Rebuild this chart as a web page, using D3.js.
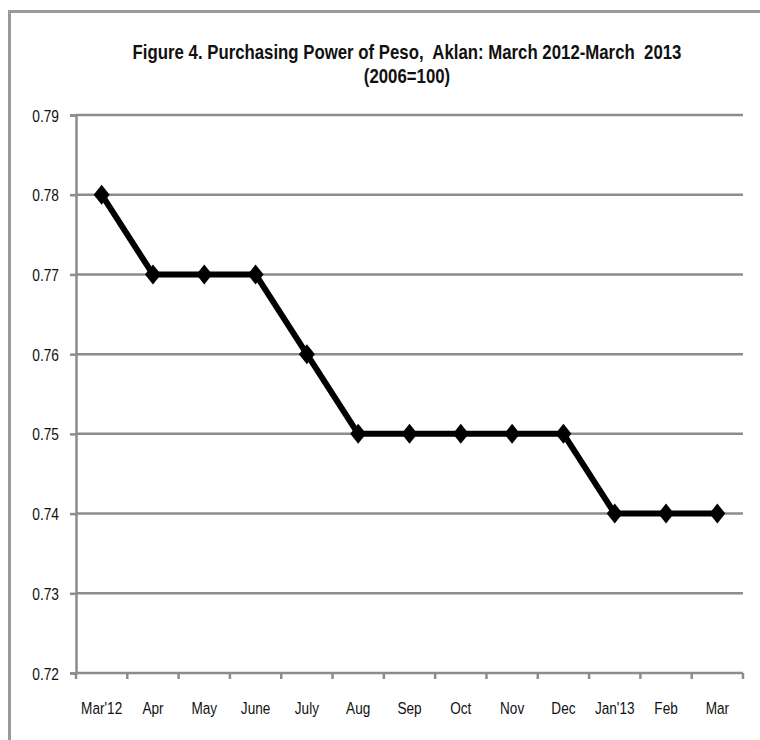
<!DOCTYPE html>
<html>
<head>
<meta charset="utf-8">
<script src="https://cdn.jsdelivr.net/npm/d3@7"></script>
<style>
  html, body { margin: 0; padding: 0; background: #fff; }
  svg text { font-family: "Liberation Sans", Arial, sans-serif; }
</style>
</head>
<body>
<svg id="chart" width="760" height="740"></svg>
<script>
// Monthly purchasing power of the peso, Aklan (2006=100)
const months = ["Mar'12", "Apr", "May", "June", "July", "Aug", "Sep", "Oct", "Nov", "Dec", "Jan'13", "Feb", "Mar"];
const ppp = [0.78, 0.77, 0.77, 0.77, 0.76, 0.75, 0.75, 0.75, 0.75, 0.75, 0.74, 0.74, 0.74];
const yTicks = [0.72, 0.73, 0.74, 0.75, 0.76, 0.77, 0.78, 0.79];
const titleLines = ["Figure 4. Purchasing Power of Peso,  Aklan: March 2012-March  2013", "(2006=100)"];

const svg = d3.select("#chart");
const gridColor = "#8c8c8c";
const ink = "#111";

// narrow type: regular face squeezed horizontally
const narrow = (sx) => (d, i, nodes) => {
  const n = d3.select(nodes[i]);
  return `translate(${n.attr("data-x")},${n.attr("data-y")}) scale(${sx},1)`;
};

// chart frame
svg.append("rect")
  .attr("x", 9.5).attr("y", 11.5)
  .attr("width", 800).attr("height", 800)
  .attr("fill", "none").attr("stroke", "#9a9a9a").attr("stroke-width", 3);

const plot = { left: 76, right: 743, top: 115, bottom: 673 };

const x = d3.scaleBand().domain(months).range([plot.left, plot.right]).paddingInner(0).paddingOuter(0);
const y = d3.scaleLinear().domain([0.72, 0.79]).range([plot.bottom, plot.top]);

// title
svg.append("g").selectAll("text")
  .data(titleLines).join("text")
  .attr("data-x", 407).attr("data-y", (d, i) => 59 + i * 24)
  .attr("transform", narrow(0.84))
  .attr("text-anchor", "middle")
  .style("white-space", "pre")
  .attr("font-size", 20).attr("font-weight", "bold").attr("fill", ink)
  .text(d => d);

// horizontal gridlines
svg.append("g").selectAll("line")
  .data(yTicks.filter(v => v > 0.72)).join("line")
  .attr("x1", plot.left).attr("x2", plot.right)
  .attr("y1", d => y(d)).attr("y2", d => y(d))
  .attr("stroke", gridColor).attr("stroke-width", 2.5);

// y axis
const yAxis = svg.append("g")
  .attr("transform", `translate(${plot.left},0)`)
  .call(d3.axisLeft(y).tickValues(yTicks).tickFormat(d3.format(".2f")).tickSize(6));
yAxis.select(".domain").attr("stroke", gridColor).attr("stroke-width", 2.5);
yAxis.selectAll(".tick line").attr("stroke", gridColor).attr("stroke-width", 2.5);
yAxis.selectAll(".tick text")
  .attr("x", null).attr("dy", null)
  .attr("data-x", -17).attr("data-y", 6)
  .attr("transform", narrow(0.86))
  .attr("text-anchor", "end")
  .attr("font-size", 16).attr("fill", ink)
  .style("font-family", "'Liberation Sans', Arial, sans-serif");

// x axis with ticks between categories
const xAxisG = svg.append("g").attr("transform", `translate(0,${plot.bottom})`);
xAxisG.append("line")
  .attr("x1", plot.left).attr("x2", plot.right)
  .attr("stroke", gridColor).attr("stroke-width", 2.5);
const boundaries = months.map(m => x(m)).concat([x(months[months.length - 1]) + x.bandwidth()]);
xAxisG.selectAll("line.tk").data(boundaries).join("line")
  .attr("class", "tk")
  .attr("x1", d => d).attr("x2", d => d)
  .attr("y1", 0).attr("y2", 6)
  .attr("stroke", gridColor).attr("stroke-width", 2.5);
xAxisG.selectAll("text").data(months).join("text")
  .attr("data-x", d => x(d) + x.bandwidth() / 2)
  .attr("data-y", 41)
  .attr("transform", narrow(0.8))
  .attr("text-anchor", "middle")
  .attr("font-size", 17).attr("fill", ink)
  .text(d => d);

// data line
const pts = months.map((m, i) => [x(m) + x.bandwidth() / 2, y(ppp[i])]);
svg.append("path")
  .datum(pts)
  .attr("d", d3.line())
  .attr("fill", "none").attr("stroke", "#000").attr("stroke-width", 6)
  .attr("stroke-linejoin", "round");

// diamond markers
svg.append("g").selectAll("path")
  .data(pts).join("path")
  .attr("transform", d => `translate(${d[0]},${d[1]})`)
  .attr("d", "M0,-10 L8,0 L0,10 L-8,0 Z")
  .attr("fill", "#000");
</script>
</body>
</html>
